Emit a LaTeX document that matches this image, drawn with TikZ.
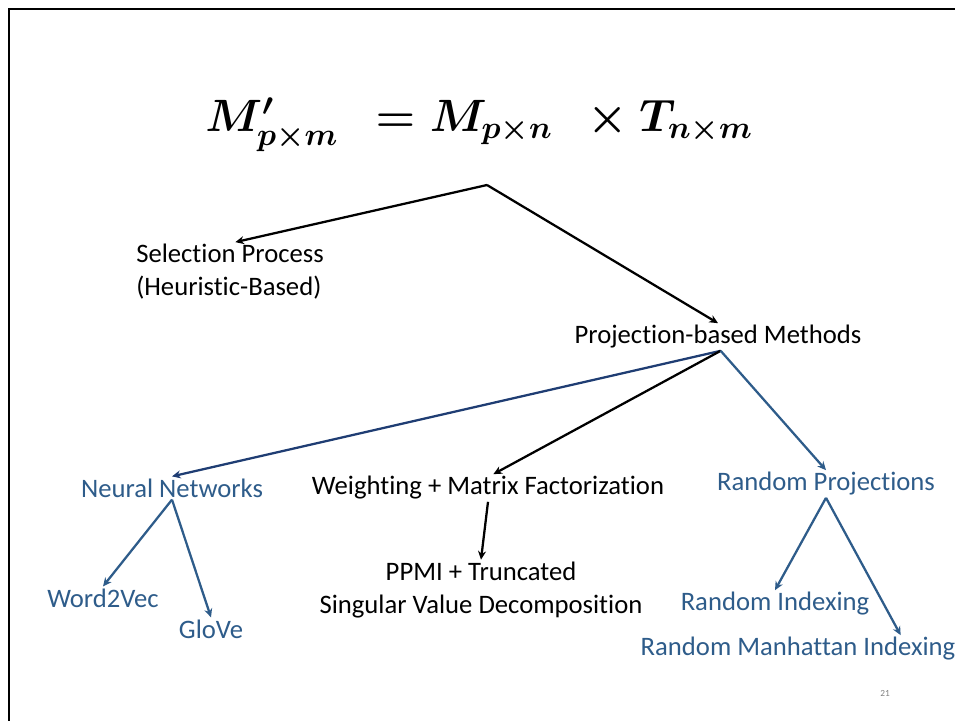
\RequirePackage{fix-cm}
\documentclass[tikz,border=0pt]{standalone}
\usepackage{amsmath}
\usepackage{fontspec}
\setmainfont[Ligatures=NoCommon]{Carlito}
\usetikzlibrary{arrows.meta}
\definecolor{slideblue}{HTML}{2E5C8A}
\definecolor{navyblue}{HTML}{1F3D73}

\begin{document}
\begin{tikzpicture}[x=0.75pt,y=-0.75pt,
  term/.style={font=\fontsize{20}{24.75}\selectfont,inner sep=1.5pt},
  blueterm/.style={term,text=slideblue},
  link/.style={line width=1.7pt,-{Stealth[length=6.5pt,width=6pt]}},
]
\useasboundingbox (0,0) rectangle (955,720);
% slide frame
\draw[line width=2.2pt] (9,740) -- (9,9) -- (970,9);
% formula
\node[font=\fontsize{34}{40}\selectfont\boldmath] (eq) at (479,125) {$M^{\prime}_{p\times m}\;\,= M_{p\times n}\;\,\times T_{n\times m}$};
\coordinate (eqfoot) at (487,185);
% first level
\node[term,align=left] (sel) at (230,272) {Selection Process\\(Heuristic-Based)};
\node[term] (proj) at (718,337) {Projection-based Methods};
% second level
\node[blueterm] (nn) at (172,488) {Neural Networks};
\node[term] (wmf) at (488,488) {Weighting + Matrix Factorization};
\node[blueterm] (rp) at (826,484) {Random Projections};
% leaves
\node[blueterm] (w2v) at (103,598) {Word2Vec};
\node[blueterm] (glove) at (211,629) {GloVe};
\node[term,align=center] (ppmi) at (481,590) {PPMI + Truncated\\Singular Value Decomposition};
\node[blueterm] (ri) at (775,604) {Random Indexing};
\node[blueterm] (rmi) at (798,649) {Random Manhattan Indexing};
\node[font=\fontsize{7}{8}\selectfont,text=gray] (pagenum) at (885,693) {21};
% arrows
\draw[link] (eqfoot) -- ([xshift=4pt]sel.north);
\draw[link] (eqfoot) -- (proj.north);
\draw[link,navyblue] ([xshift=2pt]proj.south) -- (nn.north);
\draw[link] ([xshift=2pt]proj.south) -- ([xshift=4pt]wmf.north);
\draw[link,slideblue] ([xshift=2pt]proj.south) -- (rp.north);
\draw[link,slideblue] (nn.south) -- (w2v.north);
\draw[link,slideblue] (nn.south) -- (glove.north);
\draw[link] (wmf.south) -- (ppmi.north);
\draw[link,slideblue] (rp.south) -- (ri.north);
\draw[link,slideblue] (rp.south) -- ([xshift=77pt]rmi.north);
\end{tikzpicture}
\end{document}
